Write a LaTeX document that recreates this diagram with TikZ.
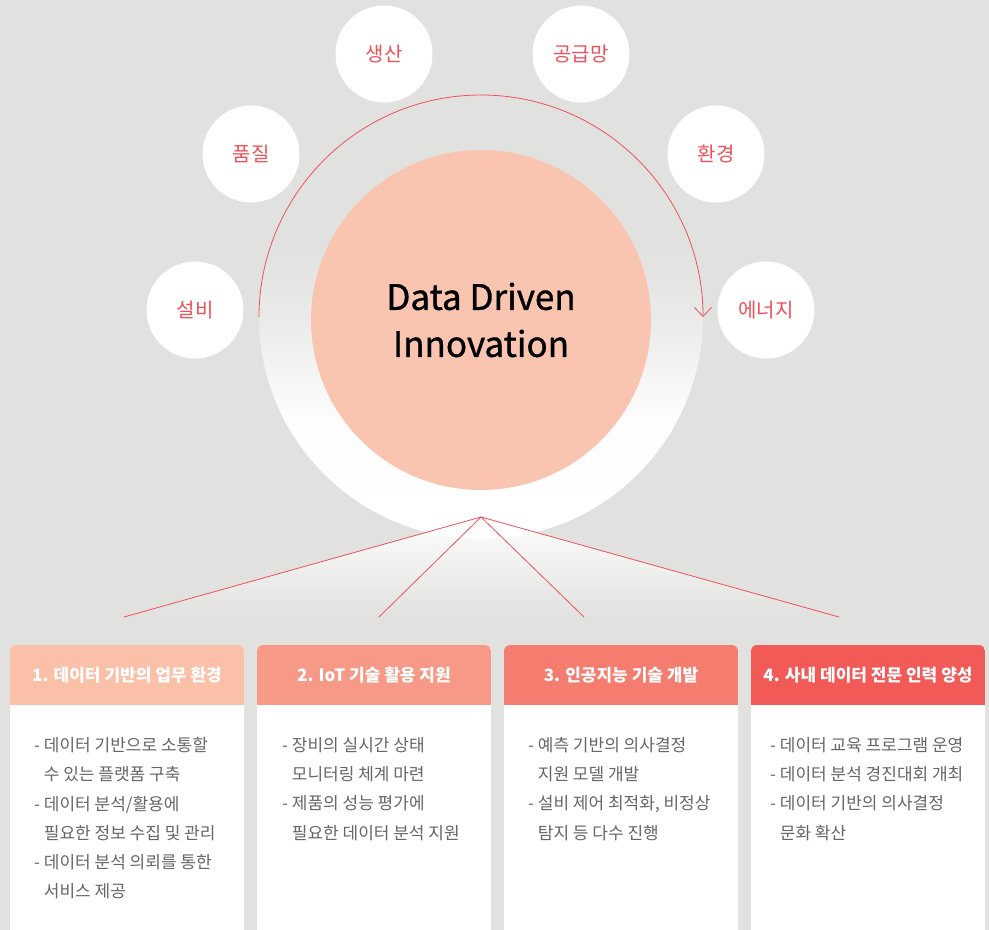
\documentclass[tikz,border=0pt]{standalone}
\usepackage{fontspec}
\setmainfont{Noto Sans CJK KR}
\newfontfamily\hubfont[FakeBold=1]{Noto Sans CJK KR}
\usetikzlibrary{positioning,arrows.meta}
\definecolor{bggray}{HTML}{E1E1DF}
\definecolor{linered}{HTML}{F0505A}
\definecolor{peach}{HTML}{F9C5B0}
\definecolor{bodygray}{HTML}{666666}
\definecolor{hdrA}{HTML}{FAC0A8}
\definecolor{hdrB}{HTML}{F69987}
\definecolor{hdrC}{HTML}{F47D70}
\definecolor{hdrD}{HTML}{F25A58}
\colorlet{glowA}{white!96!bggray}
\colorlet{glowB}{white!30!bggray}
\pgfdeclareverticalshading{glowfade}{100bp}{color(0bp)=(white); color(25bp)=(white); color(38bp)=(glowA); color(50bp)=(glowB); color(58bp)=(bggray); color(100bp)=(bggray)}

\begin{document}
\begin{tikzpicture}[x=1pt, y=-1pt,
    petal/.style={circle, fill=white, minimum size=97pt, inner sep=0pt, text=linered, font=\fontsize{20}{22}\selectfont},
    hub/.style={circle, fill=peach, minimum size=340pt, align=center, font=\hubfont\fontsize{35}{47}\selectfont},
    card/.style={fill=white, rounded corners=6pt},
    cardhead/.style={text=white, font=\bfseries\fontsize{17}{19}\selectfont},
    cardbody/.style={anchor=north west, inner sep=0pt, align=left, text=bodygray, font=\fontsize{17}{29.3}\selectfont},
    branch/.style={linered, line width=0.8pt}]

    % background
    \fill[bggray] (0,0) rectangle (989,930);
    \clip (0,0) rectangle (989,930);

    % soft glow round the hub
    \coordinate (apex) at (481,517);
    \coordinate (f1) at (124,617);
    \coordinate (f2) at (379,617);
    \coordinate (f3) at (584,617);
    \coordinate (f4) at (839,617);
    \shade[top color=glowA, bottom color=bggray] (apex) -- (f4) -- (f1) -- cycle;
    \shade[shading=glowfade] (481,317) circle[radius=222pt];

    % centre circle
    \node[hub] (hub) at (481,320) {Data Driven\\Innovation};

    % turning arrow
    \coordinate (arcL) at (259,317);
    \draw[linered, line width=0.8pt, -{Straight Barb[length=9pt,width=17pt]}] (arcL) arc[start angle=180, end angle=0, radius=222pt];

    % small circles
    \node[petal] (p1) at (195,310) {설비};
    \node[petal] (p2) at (251,154) {품질};
    \node[petal] (p3) at (384,54) {생산};
    \node[petal] (p4) at (581,54) {공급망};
    \node[petal] (p5) at (716,154) {환경};
    \node[petal] (p6) at (766,310) {에너지};

    % branches to the cards
    \foreach \i in {1,...,4}
        \draw[branch] (apex) -- (f\i);

    % cards
    \foreach \i/\x/\c/\t in {1/10/hdrA/{1. 데이터 기반의 업무 환경}, 2/257/hdrB/{2. IoT 기술 활용 지원},
                             3/504/hdrC/{3. 인공지능 기술 개발}, 4/751/hdrD/{4. 사내 데이터 전문 인력 양성}} {
        \fill[card] (\x,645) rectangle ++(234,300);
        \begin{scope}
            \clip[rounded corners=6pt] (\x,645) rectangle ++(234,100);
            \fill[\c] (\x,645) rectangle ++(234,60);
        \end{scope}
        \node[cardhead] (h\i) at (\x+117,675) {\t};
    }

    % card texts
    \node[cardbody] (b1) at (34,737) {- 데이터 기반으로 소통할\\\hphantom{- }수 있는 플랫폼 구축\\- 데이터 분석/활용에\\\hphantom{- }필요한 정보 수집 및 관리\\- 데이터 분석 의뢰를 통한\\\hphantom{- }서비스 제공};
    \node[cardbody] (b2) at (282,737) {- 장비의 실시간 상태\\\hphantom{- }모니터링 체계 마련\\- 제품의 성능 평가에\\\hphantom{- }필요한 데이터 분석 지원};
    \node[cardbody] (b3) at (528,737) {- 예측 기반의 의사결정\\\hphantom{- }지원 모델 개발\\- 설비 제어 최적화, 비정상\\\hphantom{- }탐지 등 다수 진행};
    \node[cardbody] (b4) at (770,737) {- 데이터 교육 프로그램 운영\\- 데이터 분석 경진대회 개최\\- 데이터 기반의 의사결정\\\hphantom{- }문화 확산};
\end{tikzpicture}
\end{document}
